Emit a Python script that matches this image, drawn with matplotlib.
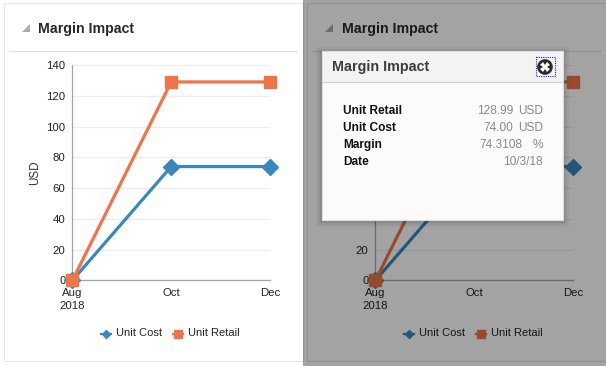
#!/usr/bin/env python3
import matplotlib
matplotlib.use('Agg')
import matplotlib.pyplot as plt
from matplotlib.lines import Line2D
from matplotlib.patches import Rectangle, Polygon, Circle

plt.rcParams['font.family'] = ['Liberation Sans', 'DejaVu Sans']

# chart values
months = ['Aug\n2018', 'Oct', 'Dec']
unit_cost = [0, 74, 74]
unit_retail = [0, 128.99, 128.99]
y_ticks = [0, 20, 40, 60, 80, 100, 120, 140]

# popup text
popup_labels = ['Unit Retail', 'Unit Cost', 'Margin', 'Date']
popup_values = ['128.99', '74.00', '74.3108', '10/3/18']
popup_units = ['USD', 'USD', '%', '']

W, H = 606, 366
BLUE = '#3a87bd'
ORANGE = '#ee744a'


def draw_chart(fig, x0, y_labels):
    ax = fig.add_axes([(x0 + 72.4) / W, (H - 280.4) / H, 197.6 / W, 215.4 / H], zorder=1)
    ax.patch.set_alpha(0)
    ax.plot(unit_cost, color=BLUE, lw=2.3, marker='D', ms=8.2, mec=BLUE, clip_on=False, zorder=3)
    ax.plot(unit_retail, color=ORANGE, lw=2.3, marker='s', ms=8.6, mec=ORANGE, clip_on=False, zorder=4)
    ax.set_xlim(0, 2)
    ax.set_ylim(0, 140)
    ax.set_xticks(range(3), months, linespacing=1.35)
    ax.set_yticks(y_ticks, y_labels)
    ax.tick_params(length=0, labelsize=8.2, labelcolor='#222222')
    ax.tick_params(axis='x', pad=5.5)
    ax.tick_params(axis='y', pad=5)
    ax.grid(axis='y', color='#e9ecf2', lw=0.9)
    ax.set_axisbelow(True)
    for s in ['top', 'right']:
        ax.spines[s].set_visible(False)
    for s in ['left', 'bottom']:
        ax.spines[s].set_color('#a3a3a3')
        ax.spines[s].set_linewidth(0.9)
    return ax


def draw_panel(ui, x0, x1):
    ui.add_patch(Rectangle((x0, 3), x1 - x0, 358, fc='white', ec='#e2e8ed', lw=0.8))
    ui.add_patch(Polygon([(x0 + 18.5, 32), (x0 + 26.5, 24), (x0 + 26.5, 32)], fc='#a8adb2', ec='none'))
    ui.text(x0 + 35, 28.5, 'Margin Impact', fontsize=10.2, fontweight='bold', color='#26282b', va='center')
    ui.plot([x0 + 5.5, x0 + 293.5], [50.5, 50.5], color='#dce4ea', lw=0.8)


def draw_legend(ui, x0):
    ui.add_line(Line2D([x0 + 101, x0 + 111], [333.5, 333.5], color=BLUE, lw=1.6))
    ui.add_line(Line2D([x0 + 106], [333.5], color=BLUE, marker='D', ms=4.2, mec=BLUE))
    ui.text(x0 + 116, 333.5, 'Unit Cost', fontsize=8, color='#222222', va='center')
    ui.add_line(Line2D([x0 + 173, x0 + 183], [333.5, 333.5], color=ORANGE, lw=1.6))
    ui.add_line(Line2D([x0 + 178], [333.5], color=ORANGE, marker='s', ms=5.6, mec=ORANGE))
    ui.text(x0 + 188, 333.5, 'Unit Retail', fontsize=8, color='#222222', va='center')


def pixel_axes(fig, zorder):
    ax = fig.add_axes([0, 0, 1, 1], zorder=zorder)
    ax.set_xlim(0, W)
    ax.set_ylim(H, 0)
    ax.axis('off')
    return ax


fig = plt.figure(figsize=(W / 100, H / 100), dpi=100, facecolor='white')

# panels behind the charts
ui = pixel_axes(fig, 0)
draw_panel(ui, 3.5, 302.5)
draw_panel(ui, 306.5, 612)
draw_legend(ui, 0)
draw_legend(ui, 303)

left = draw_chart(fig, 0, [str(t) for t in y_ticks])
left.set_ylabel('USD', fontsize=8.4, color='#333333', labelpad=4)
# labels above 20 sit behind the popup on the right chart
draw_chart(fig, 303, [str(t) if t <= 20 else '' for t in y_ticks])

# dimmed right half and popup on top
top = pixel_axes(fig, 2)
top.add_patch(Rectangle((303, 0), 303, H, fc='black', ec='none', alpha=0.36))
for grow, a in [(6, 0.04), (4, 0.05), (2, 0.07)]:
    top.add_patch(Rectangle((322 - grow, 51 - grow + 2), 241 + 2 * grow, 168 + 2 * grow, fc='black', ec='none', alpha=a))
top.add_patch(Rectangle((322, 51), 241, 168.5, fc='#fbfbfc', ec='#d5dde6', lw=0.8))
top.add_patch(Rectangle((322.5, 51.5), 240, 30, fc='#f3f3f3', ec='none'))
top.plot([322.5, 563], [82, 82], color='#c9d3dc', lw=0.9)
top.text(332.5, 67, 'Margin Impact', fontsize=10.3, fontweight='bold', color='#3a3c3f', va='center')

top.add_patch(Rectangle((535.5, 57), 19, 19, fc='none', ec='#2222dd', lw=0.8, ls=(0, (1, 1))))
top.add_patch(Circle((545, 67), 7.8, fc='#2b2b2b', ec='none'))
top.add_line(Line2D([545], [67], marker='X', ms=7, color='white', mec='white', mew=0))

row_y = [111, 128, 145, 162]
value_right = [513, 513, 522, 543]
for y, lab, val, unit, xr in zip(row_y, popup_labels, popup_values, popup_units, value_right):
    top.text(343, y, lab, fontsize=8.6, fontweight='bold', color='#111111', va='center')
    top.text(xr, y, val, fontsize=8.6, color='#8a8a8a', va='center', ha='right')
    if unit:
        top.text(543, y, unit, fontsize=8.6, color='#8a8a8a', va='center', ha='right')

fig.savefig('out.png', dpi=100)
